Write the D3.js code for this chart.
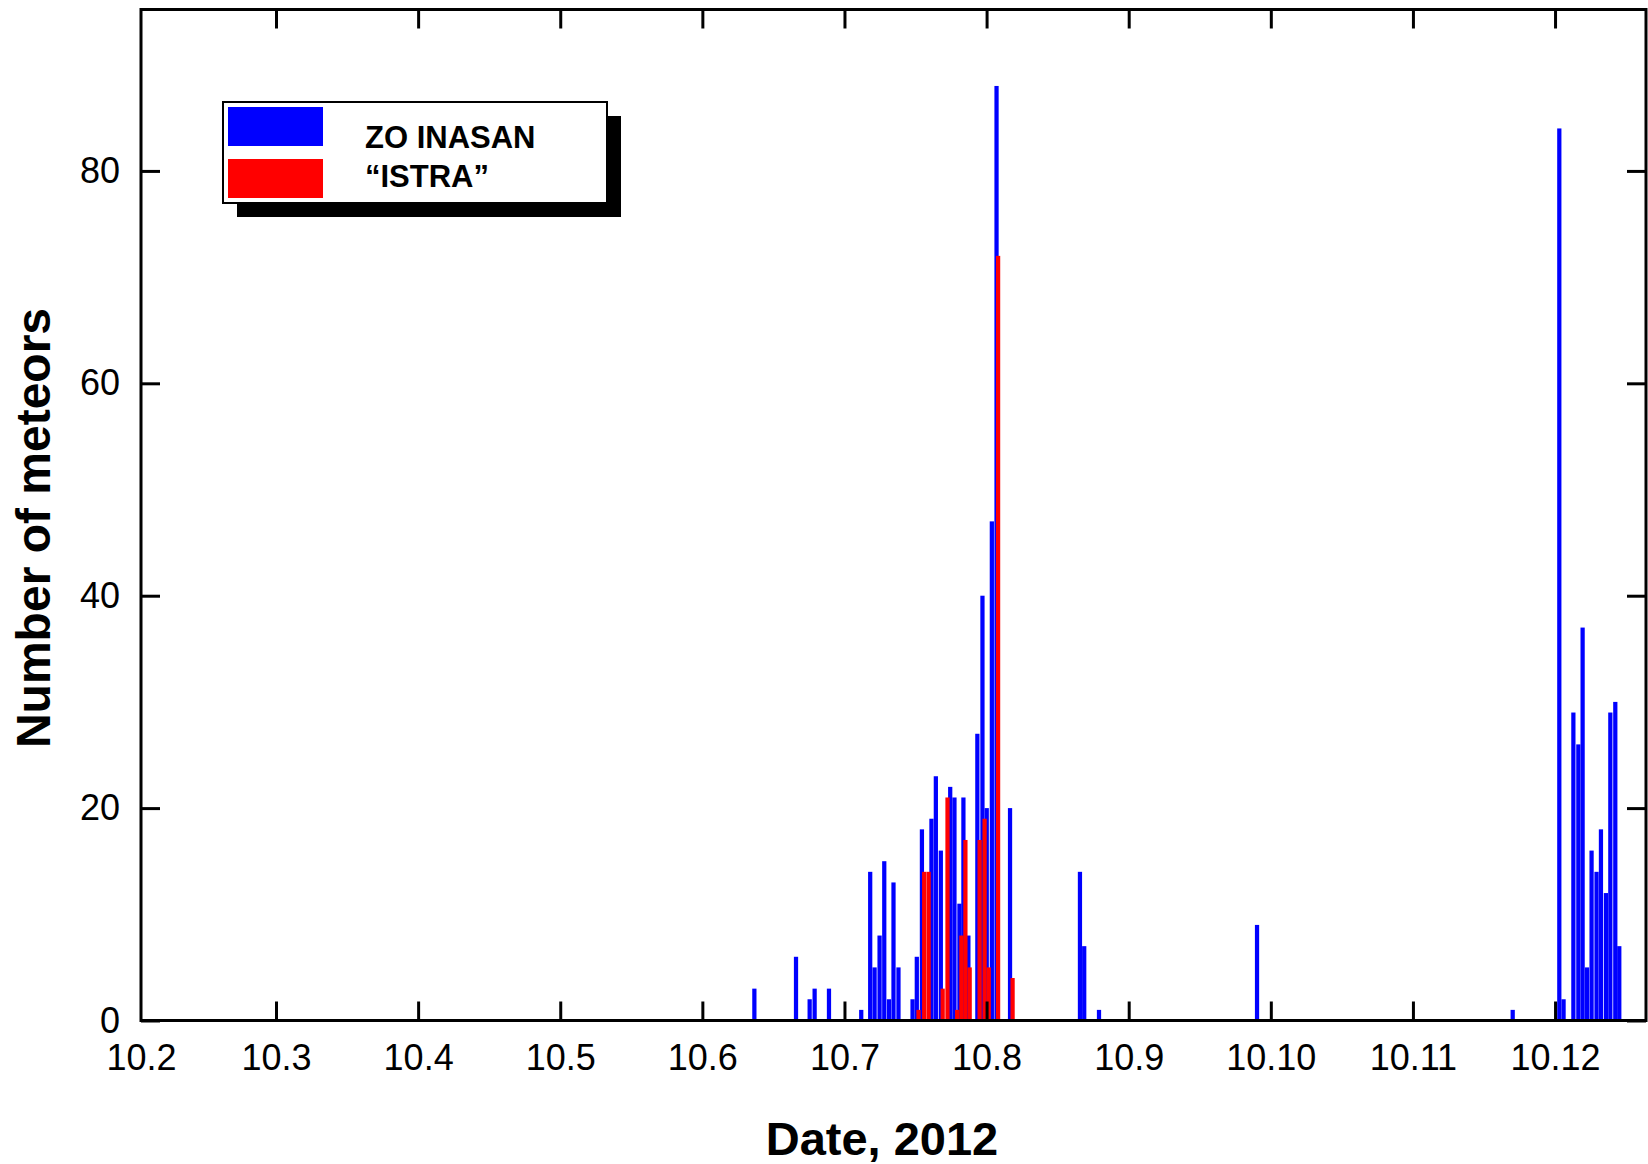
<!DOCTYPE html>
<html>
<head>
<meta charset="utf-8">
<script src="https://cdn.jsdelivr.net/npm/d3@7"></script>
<style>
  html, body { margin: 0; padding: 0; background: #ffffff; }
  svg { display: block; }
</style>
</head>
<body>
<svg id="chart" width="1648" height="1164"></svg>
<script>
// ---------------- DATA (day of October 2012, count per bin) ----------------
const seriesNames = ["ZO INASAN", "\u201CISTRA\u201D"];

const blueTimes = [6.366, 6.659, 6.755, 6.790, 6.891, 7.118, 7.181, 7.212, 7.247, 7.280,
                   7.313, 7.345, 7.380, 7.479, 7.509, 7.545, 7.612, 7.643, 7.678, 7.744,
                   7.774, 7.809, 7.837, 7.872, 7.935, 7.971, 8.001, 8.037, 8.070, 8.165,
                   8.657, 8.687, 8.791, 9.903, 11.702, 12.030, 12.060, 12.129, 12.164, 12.194,
                   12.225, 12.257, 12.292, 12.323, 12.358, 12.389, 12.424, 12.452];
const blueCounts = [3, 6, 2, 3, 3, 1, 14, 5, 8, 15,
                    2, 13, 5, 2, 6, 18, 19, 23, 16, 22,
                    21, 11, 21, 8, 27, 40, 20, 47, 88, 20,
                    14, 7, 1, 9, 1, 84, 2, 29, 26, 37,
                    5, 16, 14, 18, 12, 29, 30, 7];

const redTimes = [7.521, 7.561, 7.592, 7.691, 7.725, 7.793, 7.823, 7.851, 7.881, 7.951,
                  7.986, 8.015, 8.081, 8.183];
const redCounts = [1, 14, 14, 3, 21, 1, 8, 17, 5, 17,
                   19, 5, 72, 4];

const xTickDays = [2, 3, 4, 5, 6, 7, 8, 9, 10, 11, 12];
const xTickLabels = ["10.2", "10.3", "10.4", "10.5", "10.6", "10.7", "10.8", "10.9", "10.10", "10.11", "10.12"];
const yTickValues = [0, 20, 40, 60, 80];
const xAxisTitle = "Date, 2012";
const yAxisTitle = "Number of meteors";
const binWidthDays = 1 / 30;

// ---------------- LAYOUT ----------------
const W = 1648, H = 1164;
const plot = { left: 141, top: 9.5, right: 1646, bottom: 1020.5 };
const FONT = "'Liberation Sans', Arial, Helvetica, sans-serif";
const BLUE = "#0000ff", RED = "#ff0000";

const svg = d3.select("#chart");
svg.append("rect").attr("width", W).attr("height", H).attr("fill", "#ffffff");

const x = d3.scaleLinear().domain([2.05, 12.64]).range([plot.left, plot.right]).clamp(true);
const y = d3.scaleLinear().domain([0, 95.2]).range([plot.bottom, plot.top]);

const blue = blueTimes.map((t, i) => ({ t, v: blueCounts[i] }));
const red = redTimes.map((t, i) => ({ t, v: redCounts[i] }));

const barW = d => Math.max(1, x(d.t + binWidthDays) - x(d.t) - 0.5);

function drawBars(data, color, cls) {
  svg.append("g").attr("class", cls)
    .selectAll("rect").data(data).enter().append("rect")
    .attr("x", d => x(d.t) - barW(d) / 2)
    .attr("y", d => y(d.v))
    .attr("width", d => barW(d))
    .attr("height", d => y(0) - y(d.v))
    .attr("fill", color);
}
drawBars(blue, BLUE, "blue-bars");
drawBars(red, RED, "red-bars");

// ---------------- AXES ----------------
const TICK = 19;
const labelFor = d => xTickLabels[xTickDays.indexOf(d)];

const gBottom = svg.append("g").attr("transform", `translate(0,${plot.bottom})`)
  .call(d3.axisBottom(x).tickValues(xTickDays).tickFormat(labelFor)
        .tickSizeInner(-TICK).tickSizeOuter(0).tickPadding(24));
const gTop = svg.append("g").attr("transform", `translate(0,${plot.top})`)
  .call(d3.axisTop(x).tickValues(xTickDays).tickFormat("")
        .tickSizeInner(-TICK).tickSizeOuter(0));
const gLeft = svg.append("g").attr("transform", `translate(${plot.left},0)`)
  .call(d3.axisLeft(y).tickValues(yTickValues).tickFormat(d3.format("d"))
        .tickSizeInner(-TICK).tickSizeOuter(0).tickPadding(21));
const gRight = svg.append("g").attr("transform", `translate(${plot.right},0)`)
  .call(d3.axisRight(y).tickValues(yTickValues).tickFormat("")
        .tickSizeInner(-TICK).tickSizeOuter(0));

[gBottom, gTop, gLeft, gRight].forEach(g => {
  g.select(".domain").remove();
  g.selectAll(".tick line").attr("stroke", "#000").attr("stroke-width", 3);
  g.selectAll(".tick text").attr("fill", "#000")
    .style("font-family", FONT).style("font-size", "36px");
});
// hide the tick mark that coincides with the left axis
gBottom.selectAll(".tick").filter(d => d === 2).select("line").remove();
gTop.selectAll(".tick").filter(d => d === 2).select("line").remove();

// frame
svg.append("rect")
  .attr("x", plot.left).attr("y", plot.top)
  .attr("width", plot.right - plot.left).attr("height", plot.bottom - plot.top)
  .attr("fill", "none").attr("stroke", "#000").attr("stroke-width", 3);

// axis titles
svg.append("text")
  .attr("x", 882).attr("y", 1155)
  .attr("text-anchor", "middle")
  .style("font-family", FONT).style("font-weight", "bold").style("font-size", "47px")
  .attr("fill", "#000").text(xAxisTitle);

svg.append("text")
  .attr("transform", "translate(50,528) rotate(-90)")
  .attr("text-anchor", "middle")
  .style("font-family", FONT).style("font-weight", "bold").style("font-size", "48px")
  .attr("fill", "#000").text(yAxisTitle);

// ---------------- LEGEND ----------------
const lg = svg.append("g").attr("class", "legend");
const box = { x: 223, y: 102, w: 384, h: 101 };
lg.append("rect").attr("x", box.x + 14).attr("y", box.y + 14)
  .attr("width", box.w).attr("height", box.h).attr("fill", "#000");
lg.append("rect").attr("x", box.x).attr("y", box.y)
  .attr("width", box.w).attr("height", box.h)
  .attr("fill", "#fff").attr("stroke", "#000").attr("stroke-width", 2);
const legendColors = [BLUE, RED];
seriesNames.forEach((name, i) => {
  lg.append("rect").attr("x", box.x + 5).attr("y", box.y + 5 + i * 52)
    .attr("width", 95).attr("height", 39).attr("fill", legendColors[i]);
  lg.append("text").attr("x", box.x + 142).attr("y", box.y + 46 + i * 39)
    .style("font-family", FONT).style("font-weight", "bold").style("font-size", "31px")
    .attr("fill", "#000").text(name);
});
</script>
</body>
</html>
